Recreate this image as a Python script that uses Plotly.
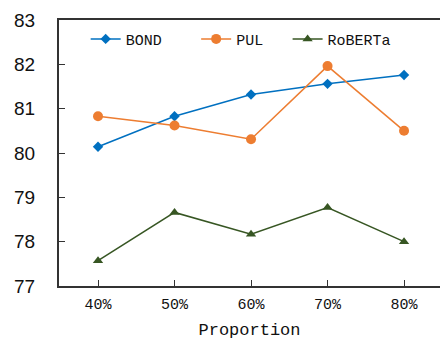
import plotly.graph_objects as go

categories = ["40%", "50%", "60%", "70%", "80%"]
bond = [80.14, 80.83, 81.32, 81.56, 81.76]
pul = [80.83, 80.62, 80.31, 81.96, 80.50]
roberta = [77.57, 78.66, 78.17, 78.77, 78.00]
y_ticks = [77, 78, 79, 80, 81, 82, 83]

xs = list(range(len(categories)))
mono = "Liberation Mono, Courier New, monospace"
sans = "Liberation Sans, Arial, sans-serif"

fig = go.Figure()
fig.add_trace(go.Scatter(x=xs, y=bond, name="BOND", mode="lines+markers", legend="legend",
                         line=dict(color="#0070C0", width=1.5),
                         marker=dict(symbol="diamond", size=8, color="#0070C0")))
fig.add_trace(go.Scatter(x=xs, y=pul, name="PUL", mode="lines+markers", legend="legend2",
                         line=dict(color="#ED7D31", width=1.5),
                         marker=dict(symbol="circle", size=10, color="#ED7D31")))
fig.add_trace(go.Scatter(x=xs, y=roberta, name="RoBERTa", mode="lines+markers", legend="legend3",
                         line=dict(color="#375623", width=1.5),
                         marker=dict(symbol="triangle-up", size=9, color="#375623")))

leg_common = dict(orientation="h", xanchor="left", yanchor="top",
                  font=dict(family=mono, size=15, color="#111"),
                  bgcolor="rgba(0,0,0,0)", itemwidth=30)

fig.update_layout(
    width=440, height=340,
    margin=dict(l=59, r=0, t=20, b=54, autoexpand=False),
    paper_bgcolor="white", plot_bgcolor="white",
    showlegend=True,
    legend=dict(x=0.07, y=0.99, **leg_common),
    legend2=dict(x=0.36, y=0.99, **leg_common),
    legend3=dict(x=0.60, y=0.99, **leg_common),
    xaxis=dict(range=[-0.51, 4.47], tickvals=xs, ticktext=categories, automargin=False,
               showline=True, linecolor="#333", linewidth=2, mirror=True,
               ticks="inside", ticklen=6, tickcolor="#333", showgrid=False,
               zeroline=False, tickfont=dict(family=mono, size=15, color="#111"),
               ticklabelstandoff=3,
               title=dict(text="Proportion", font=dict(family=mono, size=17, color="#111"),
                          standoff=10)),
    yaxis=dict(range=[77, 83], tickvals=y_ticks, automargin=False,
               showline=True, linecolor="#333", linewidth=2, mirror=False,
               ticks="inside", ticklen=6, tickcolor="#333", showgrid=False,
               zeroline=False, tickfont=dict(family=sans, size=19, color="#111"),
               ticklabelstandoff=18),
)

fig.write_html(
    "out.html",
    config={"displayModeBar": False},
    post_script="document.body.style.margin='0';document.body.style.overflow='hidden';",
)
